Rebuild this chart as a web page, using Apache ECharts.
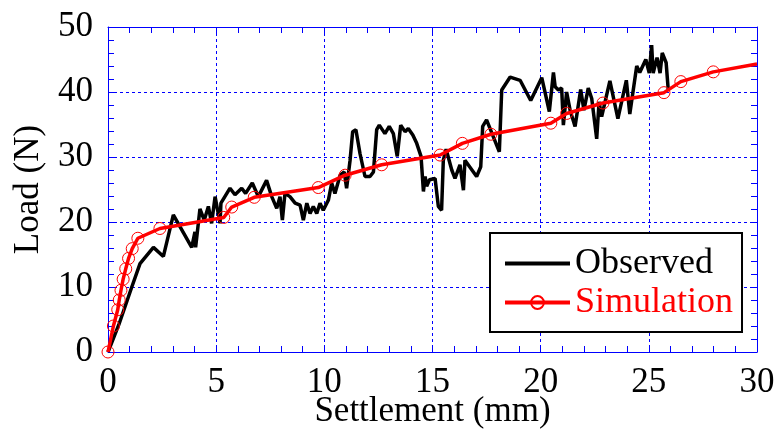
<!DOCTYPE html>
<html>
<head>
<meta charset="utf-8">
<script src="https://cdn.jsdelivr.net/npm/echarts@6/dist/echarts.min.js"></script>
<style>html,body{margin:0;padding:0;background:#fff;}#c{width:781px;height:437px;}</style>
</head>
<body>
<div id="c"></div>
<script>
// Observed settlement (mm) / load (N)
var obsX = [0,0.5,1.1,1.48,2.1,2.56,3.02,3.87,4.02,4.05,4.25,4.45,4.64,4.79,4.95,5.18,5.22,5.64,5.87,6.18,6.36,6.67,6.95,7.33,7.57,7.8,7.95,8.06,8.18,8.41,8.65,8.88,9.03,9.19,9.34,9.49,9.65,9.8,9.95,10.19,10.34,10.49,10.73,10.92,11.03,11.19,11.31,11.46,11.65,11.88,12.11,12.27,12.42,12.54,12.8,13.0,13.19,13.37,13.53,13.73,13.88,14.09,14.27,14.47,14.58,14.66,14.73,14.86,15.12,15.27,15.42,15.5,15.63,15.89,16.04,16.27,16.43,16.5,17.04,17.23,17.32,17.5,18.09,18.2,18.59,19.05,19.54,20.05,20.4,20.59,20.67,20.82,20.97,21.05,21.2,21.36,21.59,21.85,22.0,22.2,22.36,22.59,22.7,22.82,23.2,23.57,23.96,24.12,24.44,24.58,24.86,25.02,25.13,25.2,25.38,25.52,25.62,25.8,25.9];
var obsY = [0,4.2,10.0,13.6,16.1,14.7,21.1,16.1,18.5,16.1,22.0,20.3,22.4,19.8,23.9,19.8,22.9,25.2,24.2,25.2,24.4,26.0,23.9,26.4,23.9,22.1,23.9,20.3,24.4,23.9,22.9,22.6,20.3,22.9,21.3,22.4,21.3,22.9,21.8,23.4,26.0,24.4,27.2,27.7,25.2,29.5,33.9,34.2,30.5,27.0,27.0,27.7,34.2,34.9,33.6,34.7,33.6,30.1,34.9,33.9,34.4,33.4,32.1,30.1,24.7,27.0,25.5,26.5,26.7,22.4,21.8,29.5,31.2,28.0,26.7,28.8,24.9,29.5,27.0,28.5,34.7,35.7,30.8,40.3,42.3,41.8,38.7,42.2,37.0,43.0,40.8,40.3,40.6,34.9,40.0,37.2,34.7,40.4,37.2,40.6,39.0,32.8,38.5,36.2,41.7,35.9,41.8,36.6,44.0,43.0,45.0,42.9,47.2,42.9,45.3,42.9,46.0,44.5,40.2];
// Simulation
var simX = [0,0.25,0.45,0.52,0.6,0.7,0.82,0.95,1.12,1.38,2.4,5.35,5.72,6.76,9.72,10.96,12.65,15.35,16.38,17.7,20.47,21.2,22.88,25.7,26.48,27.98,30];
var simY = [0,4.0,6.5,8.0,9.5,11.2,12.8,14.4,15.9,17.5,19.0,20.7,22.3,23.8,25.3,27.2,28.8,30.3,32.1,33.5,35.2,36.7,38.3,39.9,41.6,43.1,44.3];
var simMarked = [1,1,1,1,1,1,1,1,1,1,1,1,1,1,1,1,1,1,1,1,1,1,1,1,1,1,0];
var xTicks = [0,5,10,15,20,25,30];
var yTicks = [0,10,20,30,40,50];

var BLUE = '#0000ff';
var FONT = '"Liberation Serif", "Times New Roman", serif';

var obsData = obsX.map(function(x,i){return [x, obsY[i]];});
var simData = simX.map(function(x,i){
  var d = {value:[x, simY[i]]};
  if (!simMarked[i]) d.symbol = 'none';
  return d;
});

function axisBase(isX, show) {
  return {
    type: 'value', min: isX ? xTicks[0] : yTicks[0], max: isX ? xTicks[xTicks.length-1] : yTicks[yTicks.length-1],
    interval: isX ? 5 : 10,
    axisLine: {show: true, onZero: false, lineStyle: {color: BLUE, width: 1}},
    axisTick: {show: true, inside: true, length: 7, lineStyle: {color: BLUE}},
    minorTick: {show: true, splitNumber: 5, length: 6, lineStyle: {color: BLUE}},
    splitLine: {show: show, lineStyle: {color: BLUE, type: [3,3], width: 1}},
    minorSplitLine: {show: false},
    axisLabel: {show: show, color: '#000', fontFamily: FONT, fontSize: 35, margin: isX ? 13 : 15}
  };
}

var xa = axisBase(true, true);
xa.name = 'Settlement (mm)'; xa.nameLocation = 'middle'; xa.nameGap = 42; xa.nameMoveOverlap = false;
xa.nameTextStyle = {color: '#000', fontFamily: FONT, fontSize: 35};
var xTop = axisBase(true, false); xTop.position = 'top';
var ya = axisBase(false, true);
ya.name = 'Load (N)'; ya.nameLocation = 'middle'; ya.nameGap = 62;
ya.nameTextStyle = {color: '#000', fontFamily: FONT, fontSize: 35};
var yRight = axisBase(false, false); yRight.position = 'right';

var chart = echarts.init(document.getElementById('c'), null, {renderer: 'canvas'});
chart.setOption({
  animation: false,
  backgroundColor: '#fff',
  grid: {left: 108, right: 24, top: 27, bottom: 85, containLabel: false, outerBoundsMode: 'none'},
  xAxis: [xa, xTop],
  yAxis: [ya, yRight],
  legend: {
    orient: 'vertical', left: 490, top: 233,
    backgroundColor: '#fff', borderColor: '#000', borderWidth: 2,
    padding: [12, 9, 11, 13], itemGap: 2, itemWidth: 65, itemHeight: 16,
    textStyle: {fontFamily: FONT, fontSize: 36, lineHeight: 37, color: '#000'},
    data: [
      {name: 'Observed', textStyle: {color: '#000'}, itemStyle: {opacity: 0}, lineStyle: {width: 4, color: '#000'}},
      {name: 'Simulation', textStyle: {color: '#ff0000'}, lineStyle: {width: 4, color: '#ff0000'}}
    ]
  },
  series: [
    {
      name: 'Observed', type: 'line', data: obsData, showSymbol: false, symbol: 'none',
      lineStyle: {color: '#000', width: 3.5}, itemStyle: {color: '#000'}, z: 2
    },
    {
      name: 'Simulation', type: 'line', data: simData, symbol: 'circle', symbolSize: 12, showSymbol: true,
      lineStyle: {color: '#ff0000', width: 3.5},
      itemStyle: {color: 'rgba(255,255,255,0)', borderColor: '#ff0000', borderWidth: 1},
      z: 3
    }
  ]
});
</script>
</body>
</html>
